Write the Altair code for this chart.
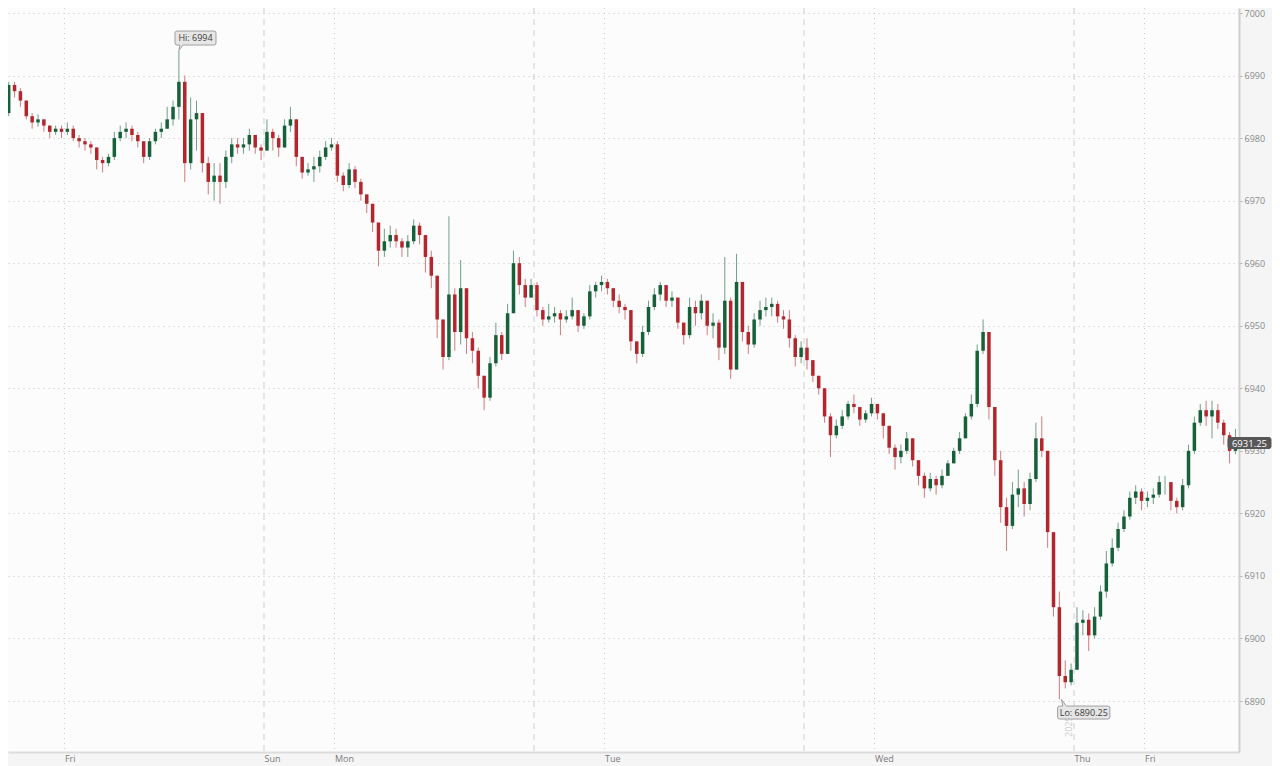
import altair as alt
import pandas as pd

# ---------------- data (30-minute candles) ----------------
first_open = 6983.0

closes = [
    # Thu evening / Fri session
    6984, 6988.5, 6987.5, 6986, 6983.5, 6982.5, 6983, 6982, 6981, 6981.5,
    6981, 6981.5, 6980, 6979.5, 6979, 6978.5, 6976.5, 6976, 6977, 6980,
    6981, 6981.5, 6980.5, 6979.5, 6977, 6979.5, 6981, 6981.5, 6983, 6985,
    6989, 6976, 6983, 6984, 6976, 6973, 6974, 6973, 6977, 6979,
    6978.5, 6979, 6980.5, 6978.5, 6978,
    # Sun / Mon session
    6981, 6980, 6978.5, 6982, 6983, 6977, 6974.5, 6975, 6975.5, 6977,
    6978.5, 6979, 6974, 6972.5, 6975, 6973, 6971, 6969.5, 6966.5, 6962,
    6963.5, 6964.5, 6963.5, 6962.5, 6963.5, 6966, 6964.5, 6961, 6958, 6951,
    6945, 6955, 6949, 6956, 6948, 6946, 6942, 6938.5, 6944, 6948.5,
    6945.5, 6952, 6960, 6956.5, 6954.5, 6956.5,
    # Tue session
    6952.5, 6951, 6951.5, 6952, 6951, 6951.5, 6952.5, 6950, 6951.5, 6955.5,
    6956.5, 6957, 6956, 6954, 6953, 6952.5, 6947.5, 6945.5, 6949, 6953,
    6955, 6956.5, 6954, 6954.5, 6950.5, 6948.5, 6953, 6952, 6954, 6950,
    6950.5, 6946.5, 6954, 6943, 6957, 6949, 6947, 6951, 6952.5, 6953,
    6953.5, 6951.5, 6951, 6948, 6945, 6946.5,
    # Wed session
    6944.5, 6942, 6940, 6935.5, 6932.5, 6934, 6935.5, 6937.5, 6937, 6935,
    6936, 6937.5, 6936, 6934, 6930.5, 6929, 6930, 6932, 6928.5, 6926,
    6924, 6925.5, 6924.5, 6926, 6928, 6930, 6932, 6935.5, 6937.5, 6946,
    6949, 6937, 6928.5, 6921, 6918, 6923, 6924, 6921.5, 6925.5, 6932,
    6930, 6917, 6905, 6894, 6893, 6895,
    # Thu / Fri session
    6902.5, 6903, 6900.5, 6903.5, 6907.5, 6912, 6914.5, 6917.5, 6919.5, 6922.5,
    6923.5, 6922, 6922.5, 6923, 6925, 6925, 6922, 6921, 6924.5, 6930,
    6934.5, 6936.5, 6935.5, 6936.5, 6934.5, 6932.5, 6930, 6931.25,
]

highs = [
    6985.5, 6989, 6989, 6988, 6986, 6984, 6983.8, 6983, 6982, 6982,
    6982, 6982.5, 6982, 6980.5, 6980, 6979.5, 6978.5, 6977, 6977.5, 6981,
    6982, 6982.5, 6982, 6981, 6979.5, 6980, 6981.5, 6982.5, 6985, 6986,
    6994, 6990, 6986.5, 6986, 6984, 6977, 6976, 6976, 6978, 6980,
    6980, 6980, 6981.5, 6980.5, 6979,
    6983, 6981.5, 6980.5, 6983, 6985, 6983, 6977, 6976, 6977, 6978,
    6979.5, 6980, 6979.5, 6974.5, 6976, 6975.5, 6973.5, 6971, 6969.5, 6966.5,
    6965.5, 6966, 6965.5, 6964, 6964.5, 6967, 6966.5, 6964.5, 6962, 6958,
    6951, 6967.5, 6956, 6960.5, 6956, 6949, 6946.5, 6942, 6945, 6950.5,
    6949, 6953.5, 6962, 6961, 6957.5, 6957.5,
    6957, 6953, 6953.5, 6953, 6952.5, 6952.5, 6954.5, 6952.5, 6952, 6956.5,
    6957, 6958, 6957.5, 6956, 6955, 6953.5, 6952.5, 6947.5, 6950, 6954,
    6956, 6957, 6956.5, 6955.5, 6954.5, 6950.5, 6954.5, 6954, 6955, 6954,
    6952, 6951, 6961, 6954.5, 6961.5, 6957, 6950, 6952, 6954, 6954.5,
    6954.5, 6954, 6952.5, 6952.5, 6948.5, 6947.5,
    6948, 6944.5, 6942, 6940, 6936, 6935, 6936.5, 6938, 6939, 6937,
    6936.5, 6938.5, 6937.5, 6936, 6934, 6931, 6931, 6933, 6932, 6928.5,
    6926.5, 6926.5, 6926, 6927, 6928.5, 6930.5, 6933, 6936, 6939, 6947,
    6951, 6948.5, 6937, 6930, 6922.5, 6925, 6927, 6925, 6926.5, 6934.5,
    6935.5, 6930, 6917, 6907.5, 6896.5, 6896,
    6905, 6904.5, 6904, 6905, 6908.5, 6914, 6916, 6918.5, 6920.5, 6923.5,
    6924.5, 6924, 6923.5, 6924, 6926, 6926, 6925, 6922.5, 6925.5, 6931,
    6935.5, 6937.5, 6938, 6938, 6937.5, 6935, 6933, 6933.5,
]

lows = [
    6982, 6983.5, 6986.5, 6985, 6983, 6981.5, 6981.8, 6981, 6980, 6980.5,
    6980, 6980.5, 6979.5, 6978.5, 6978, 6977.5, 6975, 6974.5, 6975.5, 6976.5,
    6979.5, 6980, 6979.5, 6978.5, 6976, 6976.5, 6979, 6980, 6981.5, 6982,
    6983, 6973, 6975, 6978, 6974.5, 6971, 6970, 6969.5, 6972, 6976,
    6977.5, 6977.5, 6978, 6977.5, 6976.5,
    6978.5, 6978, 6977, 6978.5, 6981, 6975.5, 6973.5, 6974, 6973, 6974.5,
    6976.5, 6978, 6973, 6971.5, 6972, 6972, 6970, 6968, 6965, 6959.5,
    6961, 6962.5, 6962.5, 6961, 6961, 6963, 6963, 6958.5, 6956, 6948,
    6943, 6944.5, 6946, 6947, 6945.5, 6944, 6940, 6936.5, 6938, 6943.5,
    6944.5, 6945.5, 6952, 6955, 6953, 6954.5,
    6951.5, 6950, 6950.5, 6950.5, 6948.5, 6950.5, 6951, 6949, 6949.5, 6951,
    6954.5, 6955.5, 6955, 6953, 6952, 6951, 6946, 6944, 6945, 6948.5,
    6952.5, 6954, 6953, 6953, 6949.5, 6947, 6948, 6950, 6951, 6948.5,
    6948, 6944.5, 6945.5, 6941.5, 6943, 6947.5, 6945.5, 6946.5, 6950, 6951.5,
    6951.5, 6950.5, 6949.5, 6946.5, 6943.5, 6944,
    6943, 6941, 6939, 6934.5, 6929, 6932, 6933.5, 6935, 6936, 6934,
    6934.5, 6935.5, 6935, 6932, 6929.5, 6927, 6928, 6929.5, 6927.5, 6924.5,
    6922.5, 6923.5, 6923, 6924, 6926, 6928, 6929.5, 6932, 6935, 6937,
    6945.5, 6935, 6926, 6918.5, 6914, 6917.5, 6921, 6919.5, 6920.5, 6925,
    6929, 6914.5, 6903.5, 6890.25, 6892, 6892.5,
    6895, 6900.5, 6898, 6900, 6903, 6906.5, 6911.5, 6914, 6917, 6919,
    6921.5, 6920.5, 6921, 6921.5, 6922.5, 6923, 6920.5, 6920, 6920.5, 6924,
    6929.5, 6934, 6934, 6932, 6933.5, 6931, 6928, 6929.5,
]

# axis labels: trading-hour positions (hours since the first session open)
day_ticks = [6, 23, 29, 52, 75, 92, 98]
day_names = ["Fri", "Sun", "Mon", "Tue", "Wed", "Thu", "Fri"]
midnight_hours = [6, 29, 52, 75, 98]
session_hours = [23, 46, 69, 92]
price_ticks = [6890, 6900, 6910, 6920, 6930, 6940, 6950, 6960, 6970, 6980, 6990, 7000]

# ---------------- build table ----------------
opens = [first_open] + closes[:-1]
hours = [0.25 + 0.5 * (i + 1) for i in range(len(closes))]
hi_adj = [max(h, o, c) for h, o, c in zip(highs, opens, closes)]
lo_adj = [min(l, o, c) for l, o, c in zip(lows, opens, closes)]
df = pd.DataFrame({
    "h": hours, "open": opens, "close": closes, "high": hi_adj, "low": lo_adj,
    "dir": ["up" if c >= o else "down" for o, c in zip(opens, closes)],
})

i_hi = max(range(len(hi_adj)), key=lambda k: hi_adj[k])
i_lo = min(range(len(lo_adj)), key=lambda k: lo_adj[k])
hi_df = pd.DataFrame({"h": [hours[i_hi]], "p": [hi_adj[i_hi]], "t": [f"Hi: {hi_adj[i_hi]:g}"]})
lo_df = pd.DataFrame({"h": [hours[i_lo]], "p": [lo_adj[i_lo]], "t": [f"Lo: {lo_adj[i_lo]:.2f}"]})
last_df = pd.DataFrame({"h": [hours[-1]], "p": [closes[-1]], "t": [f"{closes[-1]:.2f}"]})
mid_df = pd.DataFrame({"h": midnight_hours})
ses_df = pd.DataFrame({"h": session_hours})
year_df = pd.DataFrame({"h": [session_hours[-1]], "t": ["2025"]})

FONT = "Open Sans"
label_expr = "".join(f"datum.value == {t} ? '{n}' : " for t, n in zip(day_ticks, day_names)) + "''"

x_scale = alt.Scale(domain=[1.1925, 106.05], nice=False, zero=False, padding=0)
y_scale = alt.Scale(domain=[6881.85, 7000.8], nice=False, zero=False, padding=0)

x_axis = alt.Axis(values=day_ticks, labelExpr=label_expr, grid=False, ticks=False,
                  domainColor="#dcdcdc", domainWidth=2, labelAlign="left",
                  labelBaseline="top", labelPadding=2, labelColor="#7a7a7a",
                  labelFontSize=9, labelFont=FONT, labelFlush=False,
                  labelOverlap=False, title=None)
y_axis = alt.Axis(orient="right", values=price_ticks, format="d", grid=True,
                  gridDash=[1, 4], gridColor="#c4c4c4", gridWidth=1,
                  domainColor="#cfcfcf", domainWidth=2, tickColor="#b5b5b5",
                  tickSize=3, labelPadding=2, labelColor="#8a8a8a",
                  labelFontSize=9, labelFont=FONT, title=None)

X = alt.X("h:Q", scale=x_scale, axis=x_axis)
color = alt.Color("dir:N", scale=alt.Scale(domain=["up", "down"],
                                           range=["#17613a", "#b3262d"]), legend=None)

mid_rules = alt.Chart(mid_df).mark_rule(color="#cccccc", strokeDash=[1, 4],
                                        strokeWidth=1).encode(x=X)
ses_rules = alt.Chart(ses_df).mark_rule(color="#cfcfcf", strokeDash=[6, 5],
                                        strokeWidth=1).encode(x=X)

base = alt.Chart(df)
wicks = base.mark_rule(strokeWidth=1, opacity=0.6, clip=True).encode(
    x=X, y=alt.Y("low:Q", scale=y_scale, axis=y_axis), y2="high:Q", color=color)
bodies = base.mark_bar(size=3.5, clip=True).encode(
    x=X, y=alt.Y("open:Q", scale=y_scale, axis=y_axis), y2="close:Q", color=color)

hi_shape = ("M0,0L1,-5.5L-1.9,-5.5Q-3.9,-5.5 -3.9,-7.5L-3.9,-17.5Q-3.9,-19.5 -1.9,-19.5"
            "L35.1,-19.5Q37.1,-19.5 37.1,-17.5L37.1,-7.5Q37.1,-5.5 35.1,-5.5L4,-5.5Z")
lo_shape = ("M2,0L7,6.6L48.5,6.6Q50.5,6.6 50.5,8.6L50.5,17.6Q50.5,19.6 48.5,19.6"
            "L0.2,19.6Q-1.8,19.6 -1.8,17.6L-1.8,8.6Q-1.8,6.6 0.2,6.6L3.5,6.6Z")
tag_shape = ("M-5.5,-5.5L33.5,-5.5Q35.5,-5.5 35.5,-3.5L35.5,3.5Q35.5,5.5 33.5,5.5"
             "L-5.5,5.5Q-7.5,5.5 -7.5,3.5L-7.5,-3.5Q-7.5,-5.5 -5.5,-5.5Z")

Yp = alt.Y("p:Q", scale=y_scale, axis=y_axis)


def label(d, shape, fill, stroke, dx, dy, tcolor, fs):
    box = alt.Chart(d).mark_point(shape=shape, size=4, fill=fill, stroke=stroke,
                                  strokeWidth=1, fillOpacity=1, strokeOpacity=1,
                                  opacity=1).encode(x=X, y=Yp)
    txt = alt.Chart(d).mark_text(dx=dx, dy=dy, align="center", baseline="middle",
                                 fontSize=fs, font=FONT, color=tcolor).encode(
        x=X, y=Yp, text="t:N")
    return box + txt


hi_lbl = label(hi_df, hi_shape, "#e6e6e6", "#a0a0a0", 16.6, -12.3, "#3a3a3a", 9)
lo_lbl = label(lo_df, lo_shape, "#e6e6e6", "#a0a0a0", 24.4, 13.3, "#3a3a3a", 9)
tag_lbl = label(last_df, tag_shape, "#575757", "#575757", 14, 0.5, "#ffffff", 9.5)

year_txt = alt.Chart(year_df).mark_text(angle=270, align="left", baseline="middle",
                                        fontSize=9, font=FONT, color="#cdcdcd",
                                        xOffset=-5).encode(x=X, y=alt.value(729), text="t:N")

chart = alt.layer(
    mid_rules, ses_rules, wicks, bodies, year_txt, lo_lbl, hi_lbl, tag_lbl
).properties(
    width=1231, height=744, autosize="none",
    padding={"left": 0, "top": 0, "right": 33, "bottom": 14},
    background="#f5f5f5",
).configure_view(fill="#fcfcfc", stroke=None)

chart.save("out.html", embed_options={"renderer": "svg", "actions": False})
